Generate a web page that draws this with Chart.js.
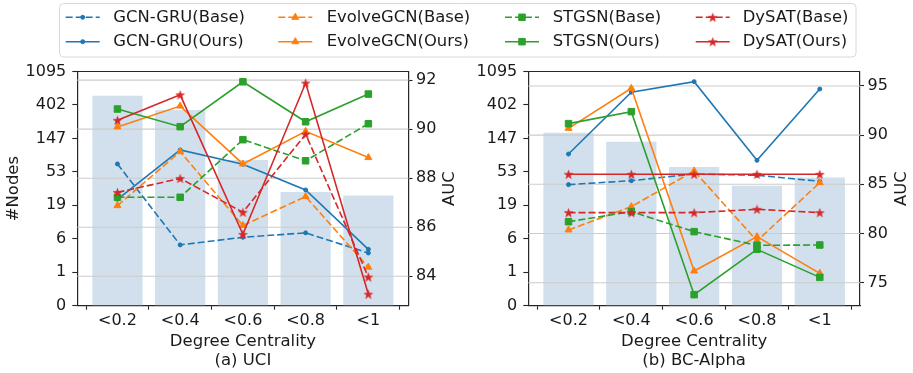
<!DOCTYPE html>
<html><head><meta charset="utf-8">
<script src="https://cdn.jsdelivr.net/npm/chart.js@4.4.1/dist/chart.umd.min.js"></script>
<style>
html,body{margin:0;padding:0;background:#fff;}
#wrap{position:relative;width:913px;height:373px;overflow:hidden;background:#fff;}
canvas{position:absolute;top:0;}
</style></head><body>
<div id="wrap">
<canvas id="cA" width="913" height="373" style="left:0px"></canvas>
<canvas id="cB" width="453" height="373" style="left:460px"></canvas>
</div>
<script>
// ---------- data ----------
const categories = ['<0.2', '<0.4', '<0.6', '<0.8', '<1'];
const nodeTickLabels = ['0', '1', '6', '19', '53', '147', '402', '1095'];
const aucTicksUCI = [84, 86, 88, 90, 92];
const aucTicksBC = [75, 80, 85, 90, 95];
const models = ['GCN-GRU', 'EvolveGCN', 'STGSN', 'DySAT'];

// (a) UCI
const uciNodes = [531, 346, 77, 29, 26];
const uciGcnGruBase = [88.58, 85.28, 85.59, 85.77, 84.95];
const uciGcnGruOurs = [87.14, 89.15, 88.57, 87.52, 85.10];
const uciEvolveBase = [86.88, 89.08, 86.07, 87.25, 84.37];
const uciEvolveOurs = [90.09, 90.94, 88.58, 89.91, 88.84];
const uciStgsnBase = [87.22, 87.22, 89.57, 88.71, 90.22];
const uciStgsnOurs = [90.82, 90.10, 91.93, 90.30, 91.43];
const uciDysatBase = [87.42, 87.99, 86.61, 89.79, 83.97];
const uciDysatOurs = [90.36, 91.40, 85.71, 91.88, 83.27];

// (b) BC-Alpha
const bcNodes = [175, 133, 62, 35, 45];
const bcGcnGruBase = [84.97, 85.37, 86.05, 85.92, 85.31];
const bcGcnGruOurs = [88.08, 94.36, 95.44, 87.44, 94.69];
const bcEvolveBase = [80.36, 82.73, 86.36, 79.25, 85.17];
const bcEvolveOurs = [90.69, 94.76, 76.19, 79.68, 75.95];
const bcStgsnBase = [81.20, 82.22, 80.19, 78.80, 78.83];
const bcStgsnOurs = [91.17, 92.39, 73.78, 78.39, 75.54];
const bcDysatBase = [82.12, 82.12, 82.12, 82.46, 82.12];
const bcDysatOurs = [86.02, 86.02, 86.02, 86.02, 86.02];

// ---------- styles ----------
const FONT = '"DejaVu Sans", "Liberation Sans", sans-serif';
const TXT = '#1a1a1a';
const SPINE = '#262626';
const colors = ['#1f77b4', '#ff7f0e', '#2ca02c', '#d62728'];
const markerStyles = ['circle', 'triangle', 'rect', 'star'];
const markerRadius = [2, 4, 4.6, 4.5];
const barColor = 'rgb(209,224,236)';
const DASH = [7, 3];

function makeStar(color, R) {
  const c = document.createElement('canvas');
  const s = Math.ceil(R * 2 + 2);
  c.width = s; c.height = s;
  const g = c.getContext('2d');
  g.translate(s / 2, s / 2 + 0.5);
  g.beginPath();
  for (let i = 0; i < 10; i++) {
    const r = (i % 2) ? R * 0.4 : R;
    const a = -Math.PI / 2 + i * Math.PI / 5;
    g.lineTo(r * Math.cos(a), r * Math.sin(a));
  }
  g.closePath();
  g.fillStyle = color; g.fill();
  g.strokeStyle = color; g.lineWidth = 0.6; g.stroke();
  return c;
}
const starImg = makeStar(colors[3], markerRadius[3]);

function pointStyleFor(m) { return m === 3 ? starImg : markerStyles[m]; }

function buildDatasets(nodes, seriesBase, seriesOurs) {
  const ds = [{
    type: 'bar', yAxisID: 'y', xAxisID: 'x',
    data: nodes.map((n, i) => ({x: i, y: Math.log1p(n)})),
    backgroundColor: barColor, borderWidth: 0,
    barPercentage: 0.8, categoryPercentage: 1.0, order: 20
  }];
  for (let m = 0; m < 4; m++) {
    [seriesBase[m], seriesOurs[m]].forEach((vals, k) => {
      const p = 2 * m + k;
      ds.push({
        type: 'line', yAxisID: 'y1', xAxisID: 'x',
        label: models[m] + (k === 0 ? '(Base)' : '(Ours)'),
        data: vals.map((v, i) => ({x: i, y: v})),
        borderColor: colors[m], backgroundColor: colors[m],
        borderWidth: 1.6, borderDash: k === 0 ? DASH : [],
        pointStyle: pointStyleFor(m), pointRadius: markerRadius[m],
        pointBorderWidth: 1, pointBorderColor: colors[m], pointBackgroundColor: colors[m],
        tension: 0, fill: false, order: 10 - p
      });
    });
  }
  return ds;
}

function drawMarker(ctx, m, x, y) {
  const r = markerRadius[m];
  ctx.fillStyle = colors[m]; ctx.strokeStyle = colors[m]; ctx.lineWidth = 1;
  ctx.setLineDash([]);
  if (m === 3) { ctx.drawImage(starImg, x - starImg.width / 2, y - starImg.height / 2); return; }
  ctx.beginPath();
  if (m === 0) ctx.arc(x, y, r, 0, Math.PI * 2);
  else if (m === 1) {
    for (let i = 0; i < 3; i++) {
      const a = i * 2 * Math.PI / 3;
      ctx.lineTo(x + Math.sin(a) * r, y - Math.cos(a) * r);
    }
    ctx.closePath();
  } else {
    const s = Math.SQRT1_2 * r;
    ctx.rect(x - s, y - s, 2 * s, 2 * s);
  }
  ctx.fill(); ctx.stroke();
}

const legendPlugin = {
  id: 'figLegend',
  afterDraw(chart) {
    const ctx = chart.ctx;
    ctx.save();
    const bx = 59.5, by = 3.5, bw = 796.5, bh = 53.5, rr = 4;
    ctx.beginPath();
    ctx.moveTo(bx + rr, by);
    ctx.arcTo(bx + bw, by, bx + bw, by + bh, rr);
    ctx.arcTo(bx + bw, by + bh, bx, by + bh, rr);
    ctx.arcTo(bx, by + bh, bx, by, rr);
    ctx.arcTo(bx, by, bx + bw, by, rr);
    ctx.closePath();
    ctx.fillStyle = 'rgba(255,255,255,0.85)'; ctx.fill();
    ctx.strokeStyle = '#d8d8d8'; ctx.lineWidth = 1; ctx.stroke();
    const lineX = [65.7, 278.3, 505, 695.7];
    const textX = [113.3, 326.7, 552.7, 742.7];
    const rowY = [17.3, 41.7];
    const L = 34;
    ctx.font = '16.4px ' + FONT;
    ctx.textBaseline = 'middle'; ctx.textAlign = 'left';
    for (let m = 0; m < 4; m++) {
      for (let k = 0; k < 2; k++) {
        const y = rowY[k];
        ctx.strokeStyle = colors[m]; ctx.lineWidth = 1.6;
        ctx.setLineDash(k === 0 ? DASH : []);
        ctx.beginPath(); ctx.moveTo(lineX[m], y); ctx.lineTo(lineX[m] + L, y); ctx.stroke();
        drawMarker(ctx, m, lineX[m] + L / 2, y);
        ctx.fillStyle = TXT;
        ctx.fillText(models[m] + (k === 0 ? '(Base)' : '(Ours)'), textX[m], y);
      }
    }
    ctx.restore();
  }
};

const framePlugin = {
  id: 'frameExtras',
  afterDatasetDraw(chart, args) {
    if (args.meta.type !== 'bar') return;
    const s = chart.scales.y1, a = chart.chartArea, ctx = chart.ctx;
    ctx.save();
    ctx.strokeStyle = '#cccccc'; ctx.lineWidth = 1.1;
    s.ticks.forEach(t => {
      const y = s.getPixelForValue(t.value);
      ctx.beginPath(); ctx.moveTo(a.left, y); ctx.lineTo(a.right, y); ctx.stroke();
    });
    ctx.restore();
  },
  afterDraw(chart) {
    const a = chart.chartArea, ctx = chart.ctx;
    ctx.save();
    ctx.strokeStyle = SPINE; ctx.lineWidth = 1.2;
    ctx.beginPath(); ctx.moveTo(a.left, a.top); ctx.lineTo(a.right, a.top); ctx.stroke();
    ctx.translate(a.right + 41.5, (a.top + a.bottom) / 2);
    ctx.rotate(-Math.PI / 2);
    ctx.font = '16.4px ' + FONT; ctx.fillStyle = TXT;
    ctx.textAlign = 'center'; ctx.textBaseline = 'middle';
    ctx.fillText('AUC', 0, 0);
    ctx.restore();
  }
};

function makeChart(canvas, cfg) {
  const tickFont = {family: FONT, size: 16};
  return new Chart(canvas, {
    type: 'bar',
    data: {datasets: buildDatasets(cfg.nodes, cfg.base, cfg.ours)},
    options: {
      responsive: false, animation: false, devicePixelRatio: 1, events: [],
      layout: {padding: {left: 0, right: cfg.padRight, top: 71.5, bottom: 0}},
      plugins: {legend: {display: false}, tooltip: {enabled: false}},
      scales: {
        x: {
          type: 'linear', position: 'bottom', min: -0.64, max: 4.64, offset: false,
          afterBuildTicks: s => { s.ticks = categories.map((_, i) => ({value: i})); },
          afterFit: s => { s.height = 67.3; },
          ticks: {callback: v => categories[Math.round(v)], font: tickFont, color: TXT,
                  padding: 1.7, autoSkip: false, maxRotation: 0, minRotation: 0},
          grid: {display: true, drawOnChartArea: false, drawTicks: true, tickLength: 4,
                 tickColor: SPINE, tickWidth: 1.1},
          border: {display: true, color: SPINE, width: 1.2},
          title: {display: true, text: ['Degree Centrality', cfg.caption],
                  font: {family: FONT, size: 16.5, lineHeight: 1.17}, color: TXT,
                  padding: {top: 0, bottom: 2.4}}
        },
        y: {
          type: 'linear', position: 'left', min: 0, max: 7,
          afterBuildTicks: s => { s.ticks = nodeTickLabels.map((_, i) => ({value: i})); },
          afterFit: s => { s.width = cfg.leftW; },
          ticks: {callback: v => nodeTickLabels[Math.round(v)], font: tickFont, color: TXT, padding: 6},
          grid: {display: true, drawOnChartArea: false, drawTicks: true, tickLength: 5,
                 tickColor: SPINE, tickWidth: 1.1},
          border: {display: true, color: SPINE, width: 1.2},
          title: {display: cfg.showNodes, text: '#Nodes', font: {family: FONT, size: 16.4}, color: TXT,
                  padding: {top: 3.5, bottom: 0}}
        },
        y1: {
          type: 'linear', position: 'right', min: cfg.aucMin, max: cfg.aucMax,
          afterBuildTicks: s => { s.ticks = cfg.aucTicks.map(v => ({value: v})); },
          afterFit: s => { s.width = cfg.rightW; },
          ticks: {callback: v => String(v), font: tickFont, color: TXT, padding: 3.5},
          grid: {display: true, drawOnChartArea: false, drawTicks: true, tickLength: 4,
                 tickColor: SPINE, tickWidth: 1.1},
          border: {display: true, color: SPINE, width: 1.2}
        }
      }
    },
    plugins: cfg.plugins
  });
}

makeChart(document.getElementById('cA'), {
  nodes: uciNodes,
  base: [uciGcnGruBase, uciEvolveBase, uciStgsnBase, uciDysatBase],
  ours: [uciGcnGruOurs, uciEvolveOurs, uciStgsnOurs, uciDysatOurs],
  aucTicks: aucTicksUCI, aucMin: 82.8, aucMax: 92.35,
  caption: '(a) UCI', showNodes: true,
  leftW: 77.3, rightW: 55, padRight: 913 - 408.5 - 55,
  plugins: [framePlugin, legendPlugin]
});

makeChart(document.getElementById('cB'), {
  nodes: bcNodes,
  base: [bcGcnGruBase, bcEvolveBase, bcStgsnBase, bcDysatBase],
  ours: [bcGcnGruOurs, bcEvolveOurs, bcStgsnOurs, bcDysatOurs],
  aucTicks: aucTicksBC, aucMin: 72.66, aucMax: 96.47,
  caption: '(b) BC-Alpha', showNodes: false,
  leftW: 68.3, rightW: 50, padRight: 453 - 400 - 50,
  plugins: [framePlugin]
});
</script>
</body></html>
